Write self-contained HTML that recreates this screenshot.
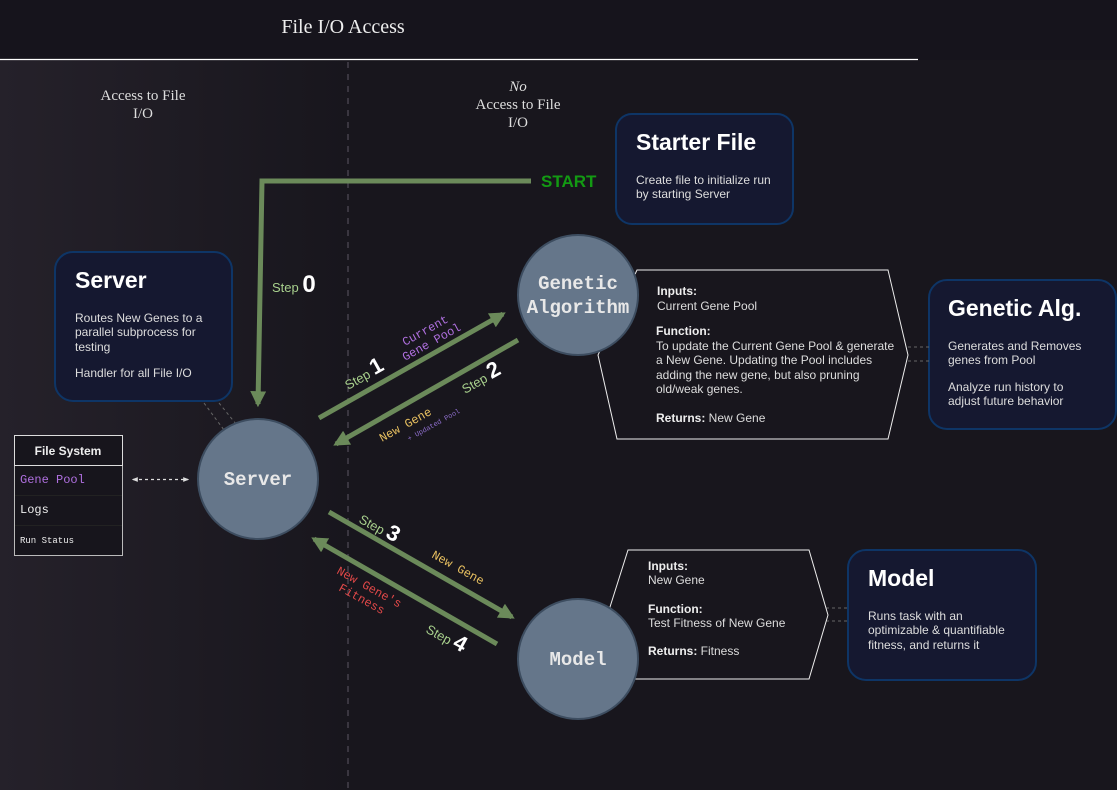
<!DOCTYPE html>
<html><head><meta charset="utf-8"><style>
html,body{margin:0;padding:0;background:#18161d;}
svg{display:block}
.mono{font-family:"Liberation Mono",monospace}
.sans{font-family:"Liberation Sans",sans-serif}
.serif{font-family:"Liberation Serif",serif}
</style></head><body>
<svg width="1117" height="790" viewBox="0 0 1117 790" xmlns="http://www.w3.org/2000/svg">
<defs>
<linearGradient id="lg" x1="0" x2="1" y1="0" y2="0">
<stop offset="0" stop-color="#25212a"/><stop offset="1" stop-color="#18161d"/>
</linearGradient>
<marker id="ah" viewBox="0 0 10 10" refX="8" refY="5" markerWidth="3.2" markerHeight="3.2" orient="auto-start-reverse">
<path d="M0,0 L10,5 L0,10 z" fill="#6b8a5a"/></marker>
<marker id="wa" viewBox="0 0 10 10" refX="8" refY="5" markerWidth="5" markerHeight="5" orient="auto-start-reverse">
<path d="M0,1 L10,5 L0,9 z" fill="#ddd"/></marker>
</defs>
<rect x="0" y="0" width="1117" height="790" fill="#18161d"/>
<rect x="0" y="0" width="1117" height="60" fill="#16141c"/>
<rect x="0" y="60" width="348" height="730" fill="url(#lg)"/>
<line x1="0" y1="59.5" x2="918" y2="59.5" stroke="#fff" stroke-width="1.2"/>
<line x1="348" y1="62" x2="348" y2="790" stroke="#3a3640" stroke-width="2" stroke-dasharray="6,6"/>
<text x="343" y="33" class="serif" font-size="20" fill="#eee" text-anchor="middle">File I/O Access</text>
<text x="143" y="100" class="serif" font-size="15" fill="#ddd" text-anchor="middle">Access to File</text>
<text x="143" y="118" class="serif" font-size="15" fill="#ddd" text-anchor="middle">I/O</text>
<text x="518" y="91" class="serif" font-size="15" fill="#ddd" text-anchor="middle" font-style="italic">No</text>
<text x="518" y="109" class="serif" font-size="15" fill="#ddd" text-anchor="middle">Access to File</text>
<text x="518" y="127" class="serif" font-size="15" fill="#ddd" text-anchor="middle">I/O</text>

<g fill="#151830" stroke="#0e3566" stroke-width="2">
<rect x="616" y="114" width="177" height="110" rx="16"/>
<rect x="55" y="252" width="177" height="149" rx="18"/>
<rect x="929" y="280" width="187" height="149" rx="18"/>
<rect x="848" y="550" width="188" height="130" rx="18"/>
</g>
<g class="sans" fill="#fff">
<text x="636" y="150" font-size="23" font-weight="bold">Starter File</text>
<text x="636" y="184" font-size="12" fill="#ddd">Create file to initialize run</text>
<text x="636" y="198" font-size="12" fill="#ddd">by starting Server</text>
<text x="75" y="288" font-size="23" font-weight="bold">Server</text>
<text x="75" y="322" font-size="12" fill="#ddd">Routes New Genes to a</text>
<text x="75" y="336" font-size="12" fill="#ddd">parallel subprocess for</text>
<text x="75" y="351" font-size="12" fill="#ddd">testing</text>
<text x="75" y="377" font-size="12" fill="#ddd">Handler for all File I/O</text>
<text x="948" y="316" font-size="23" font-weight="bold">Genetic Alg.</text>
<text x="948" y="350" font-size="12" fill="#ddd">Generates and Removes</text>
<text x="948" y="364" font-size="12" fill="#ddd">genes from Pool</text>
<text x="948" y="391" font-size="12" fill="#ddd">Analyze run history to</text>
<text x="948" y="405" font-size="12" fill="#ddd">adjust future behavior</text>
<text x="868" y="586" font-size="23" font-weight="bold">Model</text>
<text x="868" y="620" font-size="12" fill="#ddd">Runs task with an</text>
<text x="868" y="634" font-size="12" fill="#ddd">optimizable &amp; quantifiable</text>
<text x="868" y="649" font-size="12" fill="#ddd">fitness, and returns it</text>
</g>

<g stroke="#666" stroke-width="1" stroke-dasharray="3,3">
<line x1="204" y1="403" x2="224" y2="430"/><line x1="219" y1="403" x2="236" y2="424"/>
<line x1="908" y1="347" x2="929" y2="347"/><line x1="908" y1="361" x2="929" y2="361"/>
<line x1="826" y1="608" x2="848" y2="608"/><line x1="826" y1="621" x2="848" y2="621"/>
</g>

<polygon points="637,270 888,270 908,355 888,439 617,439 598,355" fill="#18161d" stroke="#eee" stroke-width="1"/>
<polygon points="628,550 809,550 828,615 809,679 634,679 610,607" fill="#18161d" stroke="#eee" stroke-width="1"/>
<g class="sans" font-size="12" fill="#ddd">
<text x="657" y="295" font-weight="bold" fill="#eee">Inputs:</text>
<text x="657" y="310">Current Gene Pool</text>
<text x="656" y="335" font-weight="bold" fill="#eee">Function:</text>
<text x="656" y="350">To update the Current Gene Pool &amp; generate</text>
<text x="656" y="364">a New Gene. Updating the Pool includes</text>
<text x="656" y="379">adding the new gene, but also pruning</text>
<text x="656" y="393">old/weak genes.</text>
<text x="656" y="422"><tspan font-weight="bold" fill="#eee">Returns:</tspan> New Gene</text>
<text x="648" y="570" font-weight="bold" fill="#eee">Inputs:</text>
<text x="648" y="584">New Gene</text>
<text x="648" y="613" font-weight="bold" fill="#eee">Function:</text>
<text x="648" y="627">Test Fitness of New Gene</text>
<text x="648" y="655"><tspan font-weight="bold" fill="#eee">Returns:</tspan> Fitness</text>
</g>

<g stroke="#6b8a5a" stroke-width="5" fill="none">
<polyline points="531,181 262,181 258,404" marker-end="url(#ah)"/>
<line x1="319" y1="418" x2="503" y2="314" marker-end="url(#ah)"/>
<line x1="518" y1="340" x2="336" y2="444" marker-end="url(#ah)"/>
<line x1="329" y1="512" x2="512" y2="617" marker-end="url(#ah)"/>
<line x1="497" y1="644" x2="314" y2="539" marker-end="url(#ah)"/>
</g>
<text x="541" y="187" class="sans" font-size="17" font-weight="bold" fill="#139a13">START</text>
<text x="272" y="292" class="sans" font-size="13" fill="#a8d08d">Step <tspan font-size="24" font-weight="bold" fill="#fff">0</tspan></text>

<g class="sans" fill="#a8d08d" font-size="13">
<text transform="translate(348,390) rotate(-29)">Step <tspan font-size="22" font-weight="bold" fill="#fff">1</tspan></text>
<text transform="translate(465,394) rotate(-29)">Step <tspan font-size="22" font-weight="bold" fill="#fff">2</tspan></text>
<text transform="translate(358,522) rotate(29)">Step <tspan font-size="22" font-weight="bold" fill="#fff">3</tspan></text>
<text transform="translate(425,632) rotate(29)">Step <tspan font-size="22" font-weight="bold" fill="#fff">4</tspan></text>
</g>
<g class="mono" font-size="12">
<text transform="translate(405,346) rotate(-29)" fill="#b070e0">Current</text>
<text transform="translate(405,361) rotate(-29)" fill="#b070e0">Gene Pool</text>
<text transform="translate(382,442) rotate(-29)" fill="#e8c060">New Gene</text>
<text transform="translate(409,441) rotate(-29)" fill="#9070d0" font-size="7">+ Updated Pool</text>
<text transform="translate(431,557) rotate(29)" fill="#e8c060">New Gene</text>
<text transform="translate(336,573) rotate(29)" fill="#e04848">New Gene's</text>
<text transform="translate(338,590) rotate(29)" fill="#e04848">Fitness</text>
</g>

<g fill="#65768a" stroke="#3d4d60" stroke-width="2">
<circle cx="258" cy="479" r="60"/>
<circle cx="578" cy="295" r="60"/>
<circle cx="578" cy="659" r="60"/>
</g>
<g class="mono" font-size="19" font-weight="bold" fill="#e8e8e8" text-anchor="middle">
<text x="258" y="485">Server</text>
<text x="578" y="289">Genetic</text>
<text x="578" y="313">Algorithm</text>
<text x="578" y="665">Model</text>
</g>

<rect x="14.5" y="435.5" width="108" height="120" fill="#17151c" stroke="#bbb"/>
<rect x="14.5" y="435.5" width="108" height="30" fill="#17151c" stroke="#ddd"/>
<line x1="15" y1="495.5" x2="122" y2="495.5" stroke="#222"/>
<line x1="15" y1="525.5" x2="122" y2="525.5" stroke="#222"/>
<text x="68" y="455" class="sans" font-size="12" font-weight="bold" fill="#eee" text-anchor="middle">File System</text>
<text x="20" y="483" class="mono" font-size="12" fill="#b070e0">Gene Pool</text>
<text x="20" y="513" class="mono" font-size="12" fill="#eee">Logs</text>
<text x="20" y="543" class="mono" font-size="9" fill="#eee">Run Status</text>
<line x1="133" y1="479.5" x2="188" y2="479.5" stroke="#ddd" stroke-width="1.2" stroke-dasharray="3,3" marker-start="url(#wa)" marker-end="url(#wa)"/>
</svg>
</body></html>
